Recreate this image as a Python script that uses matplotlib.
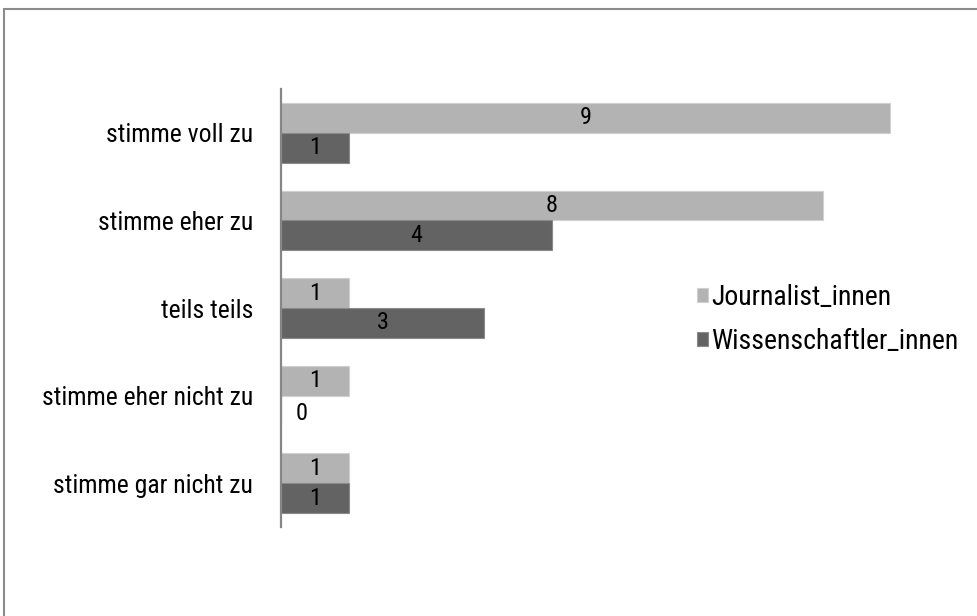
import matplotlib.pyplot as plt
import matplotlib.patches as mpatches
import numpy as np

plt.rcParams['font.family'] = ['Roboto Condensed', 'Barlow Condensed', 'PT Sans Narrow', 'DejaVu Sans']

kategorien = ['stimme voll zu', 'stimme eher zu', 'teils teils',
              'stimme eher nicht zu', 'stimme gar nicht zu']
journalist_innen = [9, 8, 1, 1, 1]
wissenschaftler_innen = [1, 4, 3, 0, 1]

hell = '#b3b3b3'
dunkel = '#636363'

fig = plt.figure(figsize=(9.78, 6.16), dpi=100)
ax = fig.add_axes([281 / 978, 1 - 527 / 616, 677 / 978, 438 / 616])

y = np.arange(len(kategorien))
h = 0.34
b1 = ax.barh(y - h / 2, journalist_innen, height=h, color=hell,
             edgecolor='#d0d0d0', linewidth=0.8, label='Journalist_innen')
b2 = ax.barh(y + h / 2, wissenschaftler_innen, height=h, color=dunkel,
             edgecolor='#8a8a8a', linewidth=0.8, label='Wissenschaftler_innen')

for bars, werte in ((b1, journalist_innen), (b2, wissenschaftler_innen)):
    for bar, w in zip(bars, werte):
        yc = bar.get_y() + bar.get_height() / 2
        if w == 0:
            ax.text(0.3, yc + 0.03, str(w), ha='center', va='center', fontsize=17.5, color='black')
        else:
            ax.text(w / 2, yc, str(w), ha='center', va='center', fontsize=17.5, color='black')

ax.set_xlim(0, 10)
ax.set_ylim(len(kategorien) - 0.5, -0.5)
ax.set_yticks(y)
ax.set_yticklabels(kategorien, fontsize=18.5)
ax.tick_params(axis='y', length=0, pad=20)
ax.set_xticks([])
for s in ('top', 'right', 'bottom'):
    ax.spines[s].set_visible(False)
ax.spines['left'].set_color('#868686')
ax.spines['left'].set_linewidth(1.6)

ax.legend(loc='center left', bbox_to_anchor=(416 / 677, 0.474), frameon=False,
          fontsize=20, handlelength=0.4, handleheight=0.4, handletextpad=0.12,
          labelspacing=0.62, borderaxespad=0, borderpad=0)

# Rahmen um das Diagramm
rahmen = mpatches.Rectangle((4 / 978, -0.2), 1.1, 1.2 - 9 / 616, transform=fig.transFigure,
                            fill=False, edgecolor='#8c8c8c', linewidth=1.5)
fig.patches.append(rahmen)

fig.savefig('out.png', dpi=100)
